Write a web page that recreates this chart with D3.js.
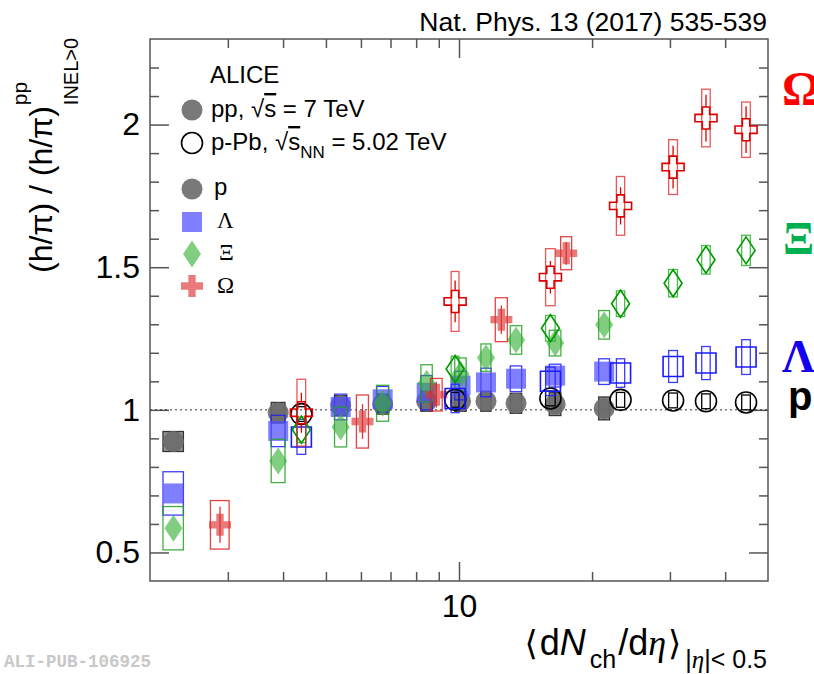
<!DOCTYPE html>
<html>
<head>
<meta charset="utf-8">
<script src="https://d3js.org/d3.v7.min.js"></script>
<style>
body { margin: 0; background: #fff; }
text { font-family: "Liberation Sans", Arial, "DejaVu Sans", sans-serif; }
.serif { font-family: "Liberation Serif", "Times New Roman", "DejaVu Serif", serif; }
</style>
</head>
<body>
<svg id="chart" width="814" height="674"></svg>
<script>
// pp, sqrt(s) = 7 TeV multiplicity classes
var ppX     = [2.26, 3.90, 5.40, 6.72, 8.45, 10.08, 11.51, 13.46, 16.5, 21.3];
var ppXerr  = [0.12, 0.14, 0.17, 0.21, 0.25, 0.30, 0.30, 0.40, 0.50, 0.60];
var ppP     = [0.889, 0.990, 1.015, 1.020, 1.030, 1.030, 1.030, 1.023, 1.020, 1.005];
var ppPSys  = [0.035, 0.036, 0.035, 0.035, 0.035, 0.035, 0.035, 0.035, 0.040, 0.040];
var ppL     = [0.707, 0.926, 1.010, 1.037, 1.060, 1.085, 1.096, 1.109, 1.120, 1.134];
var ppLSys  = [0.076, 0.055, 0.045, 0.045, 0.060, 0.050, 0.050, 0.045, 0.040, 0.045];
var ppXi    = [0.585, 0.821, 0.940, 1.023, 1.093, 1.125, 1.183, 1.245, 1.234, 1.298];
var ppXiSys = [0.076, 0.076, 0.070, 0.063, 0.065, 0.057, 0.048, 0.050, 0.045, 0.050];
// pp Omega uses merged classes
var ppOmX     = [2.88, 6.05, 8.89, 12.47, 17.48];
var ppOmXerr  = [0.14, 0.19, 0.27, 0.39, 0.50];
var ppOm      = [0.597, 0.959, 1.053, 1.316, 1.549];
var ppOmStat  = [0.063, 0.061, 0.045, 0.050, 0.040];
var ppOmSys   = [0.085, 0.093, 0.057, 0.077, 0.058];

// p-Pb, sqrt(sNN) = 5.02 TeV
var pPbX     = [4.4, 9.8, 16.1, 23.2, 30.5, 36.2, 44.6];
var pPbXerr  = [0.1, 0.2, 0.4, 0.5, 0.7, 0.8, 1.0];
var pPbP     = [0.985, 1.035, 1.040, 1.035, 1.033, 1.030, 1.026];
var pPbPSys  = [0.026, 0.026, 0.026, 0.026, 0.026, 0.026, 0.026];
var pPbL     = [0.905, 1.040, 1.100, 1.129, 1.152, 1.164, 1.185];
var pPbLSys  = [0.061, 0.050, 0.050, 0.050, 0.056, 0.058, 0.061];
var pPbXi    = [0.930, 1.143, 1.286, 1.372, 1.444, 1.526, 1.559];
var pPbXiSys = [0.045, 0.045, 0.045, 0.045, 0.048, 0.050, 0.053];
var pPbOm    = [0.990, 1.380, 1.465, 1.715, 1.851, 2.023, 1.982];
var pPbOmStat= [0.070, 0.073, 0.057, 0.065, 0.075, 0.082, 0.082];
var pPbOmSys = [0.117, 0.105, 0.100, 0.103, 0.096, 0.101, 0.097];

var xMajor = [10];
var xMinor = [3, 4, 5, 6, 7, 8, 9, 20, 30, 40];
var yMajor = [0.5, 1, 1.5, 2];
var yMinor = [0.6, 0.7, 0.8, 0.9, 1.1, 1.2, 1.3, 1.4, 1.6, 1.7, 1.8, 1.9, 2.1, 2.2];

var svg = d3.select("#chart");
var L = 150, R = 768, T = 39, B = 581;
var x = d3.scaleLog().domain([2, 50]).range([L, R]);
var y = d3.scaleLinear().domain([0.4, 2.3]).range([B, T]);

function rows(xs, xe, ys, sys, stat) {
	return xs.map(function(v, i) {
		return {x: v, xe: xe[i], y: ys[i], sys: sys[i], stat: stat ? stat[i] : 0};
	});
}

// marker shapes
function diamond(w, h) { return "M0," + (-h) + "L" + w + ",0L0," + h + "L" + (-w) + ",0Z"; }
var shape = {
	circle: d3.symbol(d3.symbolCircle, Math.PI * 10.5 * 10.5)(),
	square: d3.symbol(d3.symbolSquare, 20 * 20)(),
	diamond: diamond(9, 13.5),
	cross: d3.symbol(d3.symbolCross, 5 * Math.pow(22 / 3, 2))()
};
var half = {circle: 10.5, square: 10, diamond: 13.5, cross: 11};

// axes ------------------------------------------------------------
var tickCol = "#555";
function styleAxis(g) {
	g.select(".domain").remove();
	g.selectAll(".tick line").attr("stroke", tickCol).attr("stroke-width", 1.5);
	g.selectAll(".tick text").attr("fill", "#000").style("font-size", "32px")
		.style("font-family", "'Liberation Sans', Arial, sans-serif");
}
svg.append("g").attr("transform", "translate(0," + B + ")")
	.call(d3.axisBottom(x).tickValues(xMinor).tickSize(-9).tickFormat("")).call(styleAxis);
svg.append("g").attr("transform", "translate(0," + B + ")")
	.call(d3.axisBottom(x).tickValues(xMajor).tickSize(-19).tickPadding(13).tickFormat(d3.format("d"))).call(styleAxis);
svg.append("g").attr("transform", "translate(0," + T + ")")
	.call(d3.axisTop(x).tickValues(xMinor).tickSize(-9).tickFormat("")).call(styleAxis);
svg.append("g").attr("transform", "translate(0," + T + ")")
	.call(d3.axisTop(x).tickValues(xMajor).tickSize(-19).tickFormat("")).call(styleAxis);
svg.append("g").attr("transform", "translate(" + L + ",0)")
	.call(d3.axisLeft(y).tickValues(yMinor).tickSize(-9).tickFormat("")).call(styleAxis);
svg.append("g").attr("transform", "translate(" + L + ",0)")
	.call(d3.axisLeft(y).tickValues(yMajor).tickSize(-19).tickPadding(10).tickFormat(d3.format(""))).call(styleAxis);
svg.append("g").attr("transform", "translate(" + R + ",0)")
	.call(d3.axisRight(y).tickValues(yMinor).tickSize(-9).tickFormat("")).call(styleAxis);
svg.append("g").attr("transform", "translate(" + R + ",0)")
	.call(d3.axisRight(y).tickValues(yMajor).tickSize(-19).tickFormat("")).call(styleAxis);

svg.append("line").attr("x1", L).attr("x2", R).attr("y1", y(1)).attr("y2", y(1))
	.attr("stroke", "#333").attr("stroke-width", 1).attr("stroke-dasharray", "2,3");

// data ------------------------------------------------------------
var plot = svg.append("g");

function drawSeries(data, o) {
	var g = plot.append("g");
	// systematic boxes
	g.selectAll("rect.sys").data(data).enter().append("rect")
		.attr("x", function(d) { return x(d.x - d.xe); })
		.attr("width", function(d) { return x(d.x + d.xe) - x(d.x - d.xe); })
		.attr("y", function(d) { return y(d.y + d.sys); })
		.attr("height", function(d) { return y(d.y - d.sys) - y(d.y + d.sys); })
		.attr("fill", o.boxFill || "none").attr("fill-opacity", o.boxFillOp || 1)
		.attr("stroke", o.boxStroke).attr("stroke-opacity", o.boxOp || 1).attr("stroke-width", 1.3);
	// statistical error bars
	var h = half[o.shape];
	g.selectAll("path.stat").data(data.filter(function(d) { return d.stat > 0; })).enter().append("path")
		.attr("d", function(d) {
			var cx = x(d.x), top = y(d.y + d.stat), bot = y(d.y - d.stat), cy = y(d.y);
			if (o.open) return "M" + cx + "," + top + "V" + (cy - h) + "M" + cx + "," + (cy + h) + "V" + bot;
			return "M" + cx + "," + top + "V" + bot;
		})
		.attr("stroke", o.color).attr("stroke-width", 1.3).attr("fill", "none");
	// markers
	g.selectAll("path.mk").data(data).enter().append("path")
		.attr("transform", function(d) { return "translate(" + x(d.x) + "," + y(d.y) + ")"; })
		.attr("d", shape[o.shape])
		.attr("fill", o.open ? "none" : o.color)
		.attr("fill-opacity", o.open ? 0 : o.opacity)
		.attr("stroke", o.open ? o.color : "none")
		.attr("stroke-width", 1.6);
}

drawSeries(rows(ppX, ppXerr, ppP, ppPSys), {shape: "circle", color: "#6a6a6a", opacity: 0.9,
	boxStroke: "#333", boxFill: "#444", boxFillOp: 0.55});
drawSeries(rows(ppX, ppXerr, ppL, ppLSys), {shape: "square", color: "#4d4dff", opacity: 0.72,
	boxStroke: "#1a1aff", boxOp: 0.85});
drawSeries(rows(ppX, ppXerr, ppXi, ppXiSys), {shape: "diamond", color: "#33b033", opacity: 0.62,
	boxStroke: "#22a022", boxOp: 0.85});
drawSeries(rows(ppOmX, ppOmXerr, ppOm, ppOmSys, ppOmStat), {shape: "cross", color: "#dd3333", opacity: 0.65,
	boxStroke: "#dd2222", boxOp: 0.85});

drawSeries(rows(pPbX, pPbXerr, pPbP, pPbPSys), {shape: "circle", color: "#000", open: true,
	boxStroke: "#000"});
drawSeries(rows(pPbX, pPbXerr, pPbL, pPbLSys), {shape: "square", color: "#1a1aff", open: true,
	boxStroke: "#1a1aff", boxOp: 0.85});
drawSeries(rows(pPbX, pPbXerr, pPbXi, pPbXiSys), {shape: "diamond", color: "#009900", open: true,
	boxStroke: "#22aa22", boxOp: 0.8});
drawSeries(rows(pPbX, pPbXerr, pPbOm, pPbOmSys, pPbOmStat), {shape: "cross", color: "#dd0000", open: true,
	boxStroke: "#e02020", boxOp: 0.75});

// frame
svg.append("rect").attr("x", L).attr("y", T).attr("width", R - L).attr("height", B - T)
	.attr("fill", "none").attr("stroke", tickCol).attr("stroke-width", 1.5);

// legend ------------------------------------------------------------
var lg = svg.append("g").style("font-size", "24px");
lg.append("text").attr("x", 210).attr("y", 83).text("ALICE");
lg.append("path").attr("transform", "translate(192,110)").attr("d", shape.circle).attr("fill", "#6a6a6a").attr("fill-opacity", 0.9);
var t1 = lg.append("text").attr("x", 211).attr("y", 117);
t1.append("tspan").text("pp, \u221A");
t1.append("tspan").style("text-decoration", "overline").text("s");
t1.append("tspan").text(" = 7 TeV");
lg.append("path").attr("transform", "translate(192,143)").attr("d", shape.circle).attr("fill", "none").attr("stroke", "#000").attr("stroke-width", 1.6);
var t2 = lg.append("text").attr("x", 211).attr("y", 150);
t2.append("tspan").text("p-Pb, \u221A");
t2.append("tspan").style("text-decoration", "overline").text("s");
t2.append("tspan").attr("dy", 8).style("font-size", "17px").text("NN");
t2.append("tspan").attr("dy", -8).text(" = 5.02 TeV");

lg.append("path").attr("transform", "translate(192,189)").attr("d", shape.circle).attr("fill", "#6a6a6a").attr("fill-opacity", 0.9);
lg.append("text").attr("x", 214).attr("y", 195).text("p");
lg.append("path").attr("transform", "translate(192,222)").attr("d", shape.square).attr("fill", "#4d4dff").attr("fill-opacity", 0.72);
lg.append("text").attr("class", "serif").attr("x", 217).attr("y", 228).style("font-size", "23px").text("\u039B");
lg.append("path").attr("transform", "translate(192,254)").attr("d", shape.diamond).attr("fill", "#33b033").attr("fill-opacity", 0.62);
lg.append("text").attr("class", "serif").attr("x", 219).attr("y", 260).style("font-size", "23px").text("\u039E");
lg.append("path").attr("transform", "translate(192,286)").attr("d", shape.cross).attr("fill", "#dd3333").attr("fill-opacity", 0.65);
lg.append("text").attr("class", "serif").attr("x", 217).attr("y", 293).style("font-size", "23px").text("\u03A9");

// right-side species labels
svg.append("text").attr("class", "serif").attr("x", 782).attr("y", 105).style("font-size", "48px").style("font-weight", "bold").attr("fill", "#ff0000").text("\u03A9");
svg.append("text").attr("class", "serif").attr("x", 783).attr("y", 254).style("font-size", "46px").style("font-weight", "bold").attr("fill", "#00b050").text("\u039E");
svg.append("text").attr("class", "serif").attr("x", 782).attr("y", 372).style("font-size", "46px").style("font-weight", "bold").attr("fill", "#1400ee").text("\u039B");
svg.append("text").attr("x", 788).attr("y", 410).style("font-size", "40px").style("font-weight", "bold").attr("fill", "#000").text("p");

// titles ------------------------------------------------------------
svg.append("text").attr("x", 767).attr("y", 31).attr("text-anchor", "end").style("font-size", "26.5px").text("Nat. Phys. 13 (2017) 535-539");

var yl = svg.append("text").attr("transform", "translate(52,273) rotate(-90)");
var ylMain = yl.append("tspan").style("font-size", "32px").text("(h/\u03C0) / (h/\u03C0)");
var mainLen = ylMain.node().getComputedTextLength();
yl.append("tspan").attr("x", mainLen + 1).attr("dy", -25).style("font-size", "21px").text("pp");
yl.append("tspan").attr("x", mainLen + 1).attr("dy", 51).style("font-size", "20px").text("INEL>0");

var xl = svg.append("text").attr("x", 767).attr("y", 655).attr("text-anchor", "end").style("font-size", "36px");
xl.append("tspan").style("font-family", "'DejaVu Sans', sans-serif").style("font-size", "34px").text("\u27E8");
xl.append("tspan").attr("dx", 2).text("d");
xl.append("tspan").style("font-style", "italic").text("N");
xl.append("tspan").attr("dx", 4).attr("dy", 13).style("font-size", "25px").text("ch");
xl.append("tspan").attr("dx", 2).attr("dy", -13).text("/d");
xl.append("tspan").attr("class", "serif").style("font-style", "italic").text("\u03B7");
xl.append("tspan").attr("dx", 2).style("font-family", "'DejaVu Sans', sans-serif").style("font-size", "34px").text("\u27E9");
xl.append("tspan").attr("dx", 4).attr("dy", 13).style("font-size", "25px").text("|");
xl.append("tspan").attr("class", "serif").style("font-size", "25px").style("font-style", "italic").text("\u03B7");
xl.append("tspan").style("font-size", "25px").text("|< 0.5");

svg.append("text").attr("x", 4).attr("y", 667).style("font-family", "'Liberation Mono', 'DejaVu Sans Mono', monospace")
	.style("font-size", "17.5px").style("font-weight", "bold").attr("fill", "#c8c8c8").text("ALI-PUB-106925");
</script>
</body>
</html>
